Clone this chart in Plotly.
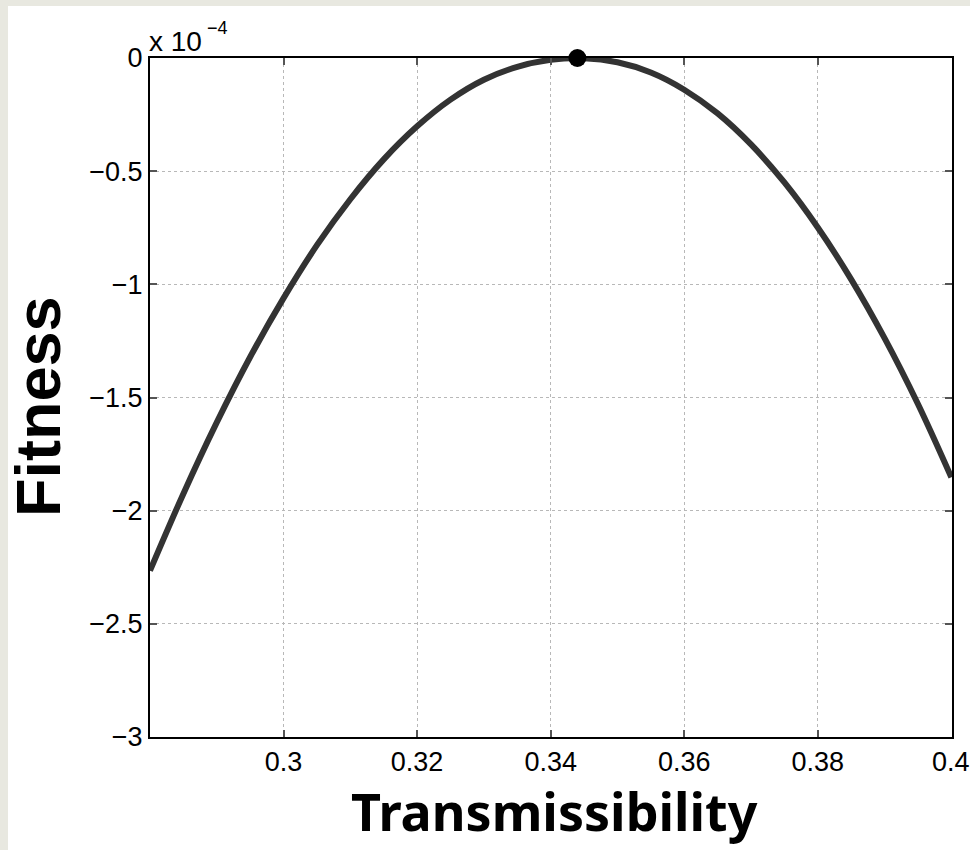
import plotly.graph_objects as go

# ---- data (fitness in units of 1e-4) ----
transmissibility = [0.280, 0.285, 0.290, 0.295, 0.300, 0.305, 0.310, 0.315, 0.320, 0.325,
                    0.330, 0.335, 0.340, 0.345, 0.350, 0.355, 0.360, 0.365, 0.370, 0.375,
                    0.380, 0.385, 0.390, 0.395, 0.400]
fitness_e4 = [-2.265, -1.925, -1.610, -1.321, -1.061, -0.827, -0.624, -0.448, -0.302, -0.184,
              -0.096, -0.039, -0.008, -0.001, -0.019, -0.064, -0.140, -0.245, -0.382, -0.550,
              -0.749, -0.978, -1.238, -1.529, -1.853]
optimum_x = [0.344]
optimum_y = [0.0]

x_ticks = [0.30, 0.32, 0.34, 0.36, 0.38, 0.40]
x_ticktext = ["0.3", "0.32", "0.34", "0.36", "0.38", "0.4"]
y_ticks = [0, -0.5, -1, -1.5, -2, -2.5, -3]
y_ticktext = ["0", "\u22120.5", "\u22121", "\u22121.5", "\u22122", "\u22122.5", "\u22123"]

W, H = 970, 850
L, R, T, B = 150, 18, 58, 113
pw, ph = W - L - R, H - T - B

def px_x(px):
    return (px - L) / pw

def px_y(py):
    return (H - B - py) / ph

fig = go.Figure()
fig.add_trace(go.Scatter(
    x=transmissibility, y=fitness_e4, mode="lines",
    line=dict(color="#333333", width=6, shape="spline", smoothing=1.0),
    hoverinfo="skip", showlegend=False))
fig.add_trace(go.Scatter(
    x=optimum_x, y=optimum_y, mode="markers",
    marker=dict(color="black", size=18), cliponaxis=False,
    showlegend=False))

tick_font = dict(family="Liberation Sans, Arial, sans-serif", size=27, color="black")
axis_common = dict(
    showline=True, linecolor="black", linewidth=2, mirror="ticks",
    ticks="inside", ticklen=7, tickwidth=1.5, tickcolor="#555555",
    showgrid=True, gridcolor="#b8b8b8", griddash="dot", gridwidth=1,
    zeroline=False, tickfont=tick_font,
)
# the last x label sits on the figure edge, so it is drawn as an annotation below
shown_x_ticktext = x_ticktext[:-1] + [""]
fig.update_xaxes(range=[0.28, 0.4001], tickvals=x_ticks, ticktext=shown_x_ticktext, **axis_common)
fig.update_yaxes(range=[-3, 0], tickvals=y_ticks, ticktext=y_ticktext, **axis_common)

fig.update_layout(
    width=W, height=H,
    margin=dict(l=L, r=R, t=T, b=B, pad=0),
    paper_bgcolor="white", plot_bgcolor="white",
    shapes=[
        dict(type="rect", xref="paper", yref="paper", layer="below",
             x0=px_x(0), x1=px_x(8), y0=px_y(850), y1=px_y(0),
             fillcolor="#e8e8e0", line=dict(width=0)),
        dict(type="rect", xref="paper", yref="paper", layer="below",
             x0=px_x(0), x1=px_x(970), y0=px_y(6), y1=px_y(0),
             fillcolor="#e8e8e0", line=dict(width=0)),
    ],
    annotations=[
        dict(text=x_ticktext[-1], xref="x", yref="paper",
             x=x_ticks[-1], y=px_y(762), xanchor="center", yanchor="middle",
             showarrow=False, font=tick_font),
        dict(text="<b>Fitness</b>", xref="paper", yref="paper",
             x=px_x(38), y=px_y(407), xanchor="center", yanchor="middle",
             textangle=-90, showarrow=False,
             font=dict(family="Liberation Sans, Arial, sans-serif", size=63, color="black")),
        dict(text="<b>Transmissibility</b>", xref="paper", yref="paper",
             x=px_x(554), y=px_y(810), xanchor="center", yanchor="middle",
             showarrow=False,
             font=dict(family="Noto Sans, Open Sans, sans-serif", size=52, color="black")),
        dict(text="x 10", xref="paper", yref="paper",
             x=px_x(147), y=px_y(41), xanchor="left", yanchor="middle",
             showarrow=False,
             font=dict(family="Liberation Sans, Arial, sans-serif", size=28, color="black")),
        dict(text="\u22124", xref="paper", yref="paper",
             x=px_x(205), y=px_y(28), xanchor="left", yanchor="middle",
             showarrow=False,
             font=dict(family="Liberation Sans, Arial, sans-serif", size=18, color="black")),
    ],
)

fig.write_html("out.html")
